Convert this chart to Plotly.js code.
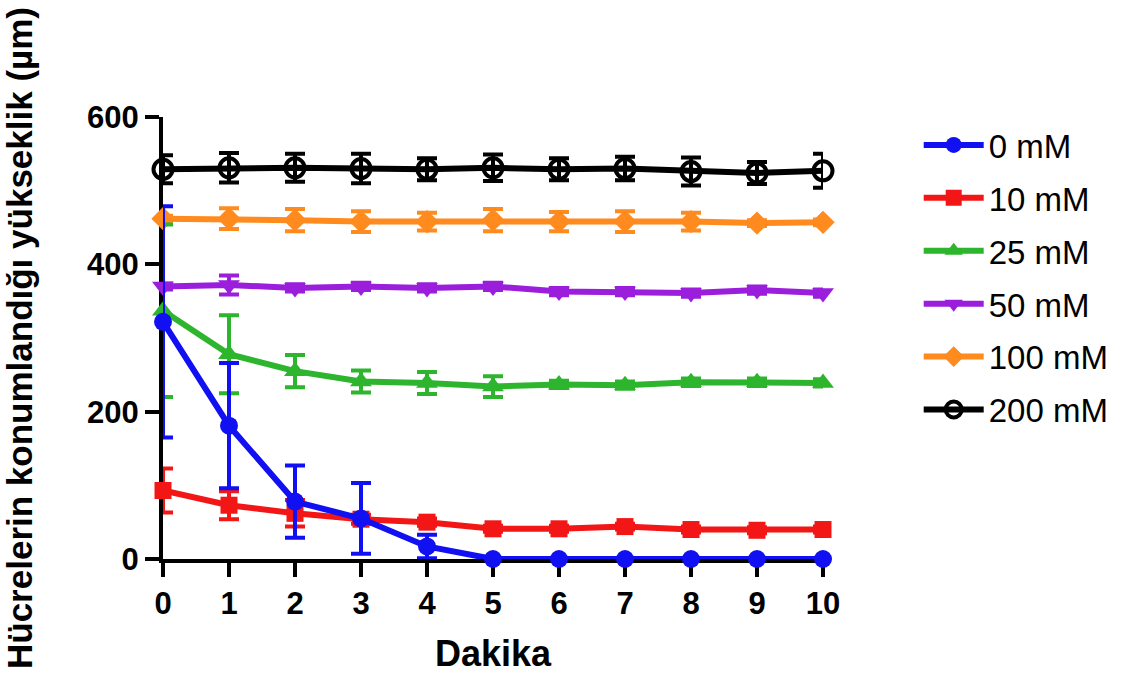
<!DOCTYPE html>
<html>
<head>
<meta charset="utf-8">
<script src="https://cdn.plot.ly/plotly-3.0.1.min.js"></script>
<style>html,body{margin:0;padding:0;background:#fff;}#chart{width:1145px;height:680px;}</style>
</head>
<body>
<div id="chart"></div>
<script>
const minutes = [0,1,2,3,4,5,6,7,8,9,10];
const seriesNames = ['0 mM','10 mM','25 mM','50 mM','100 mM','200 mM'];
const mean0   = [322, 181, 78, 55, 17, 0, 0, 0, 0, 0, 0];
const err0    = [157, 85, 49, 48, 16, 0, 0, 0, 0, 0, 0];
const mean10  = [93, 73, 62, 54, 50, 41, 41, 44, 40, 39, 40];
const err10   = [30, 19, 18, 6, 5, 4, 4, 4, 4, 4, 4];
const mean25  = [337, 278, 255, 241, 239, 234, 237, 236, 240, 240, 239];
const err25   = [117, 53, 22, 15, 15, 14, 5, 5, 5, 5, 5];
const mean50  = [370, 372, 368, 370, 368, 370, 363, 363, 361, 365, 361];
const err50   = [4, 13, 5, 5, 5, 5, 5, 5, 5, 5, 5];
const mean100 = [462, 462, 460, 458, 458, 460, 458, 458, 458, 456, 457];
const err100  = [4, 14, 15, 14, 12, 15, 13, 14, 12, 4, 4];
const mean200 = [529, 531, 531, 530, 529, 531, 529, 530, 526, 524, 527];
const err200  = [19, 20, 19, 20, 15, 18, 15, 16, 19, 15, 23];

const colors = ['#1010F2','#F21616','#2DB52D','#9A1EDC','#FF8A1E','#000000'];
const symbols = ['circle','square','triangle-up','triangle-down','diamond','circle-open'];
const sizes = [18, 17, 19, 19, 18, 19];
const means = [mean0, mean10, mean25, mean50, mean100, mean200];
const errs = [err0, err10, err25, err50, err100, err200];

const traces = [];
for (let i = seriesNames.length - 1; i >= 0; i--) {
  traces.push({
    x: minutes, y: means[i], name: seriesNames[i],
    type: 'scatter', mode: 'lines+markers',
    legendrank: i + 1, legendgroup: 'g' + i,
    line: {color: colors[i], width: 6},
    marker: {color: colors[i], symbol: symbols[i], size: sizes[i],
             line: {color: colors[i], width: symbols[i] === 'circle-open' ? 4 : 0}},
    error_y: {type: 'data', array: errs[i], visible: true, color: colors[i], thickness: 4, width: 10},
    cliponaxis: false
  });
}

const FONT = 'Liberation Sans, Arial, sans-serif';
const layout = {
  width: 1145, height: 680,
  paper_bgcolor: '#fff', plot_bgcolor: '#fff',
  margin: {l: 163, r: 322, t: 117, b: 121},
  font: {family: FONT, color: '#000'},
  showlegend: true,
  legend: {
    x: 1.145, xanchor: 'left', y: 1.0, yanchor: 'top',
    font: {size: 33, family: FONT, color: '#000'},
    itemwidth: 60,
    traceorder: 'grouped', tracegroupgap: 7, bgcolor: 'rgba(0,0,0,0)'
  },
  xaxis: {
    range: [0, 10], tickvals: minutes, ticktext: minutes.map(String),
    showgrid: false, zeroline: false, showline: true, linecolor: '#000', linewidth: 4,
    ticks: 'outside', ticklen: 14, tickwidth: 4, tickcolor: '#000',
    tickfont: {size: 31, family: FONT, weight: 'bold'},
    title: {text: '<b>Dakika</b>', font: {size: 36, family: FONT}, standoff: 22},
    layer: 'below traces', fixedrange: true
  },
  yaxis: {
    range: [0, 600], tickvals: [0, 200, 400, 600],
    showgrid: false, zeroline: false, showline: true, linecolor: '#000', linewidth: 4,
    ticks: 'outside', ticklen: 14, tickwidth: 4, tickcolor: '#000',
    tickfont: {size: 31, family: FONT, weight: 'bold'},
    title: {text: '<b>Hücrelerin konumlandığı yükseklik (µm)</b>', font: {size: 35, family: FONT}, standoff: 45},
    layer: 'below traces', fixedrange: true
  }
};

Plotly.newPlot('chart', traces, layout, {displayModeBar: false, staticPlot: true});
</script>
</body>
</html>
